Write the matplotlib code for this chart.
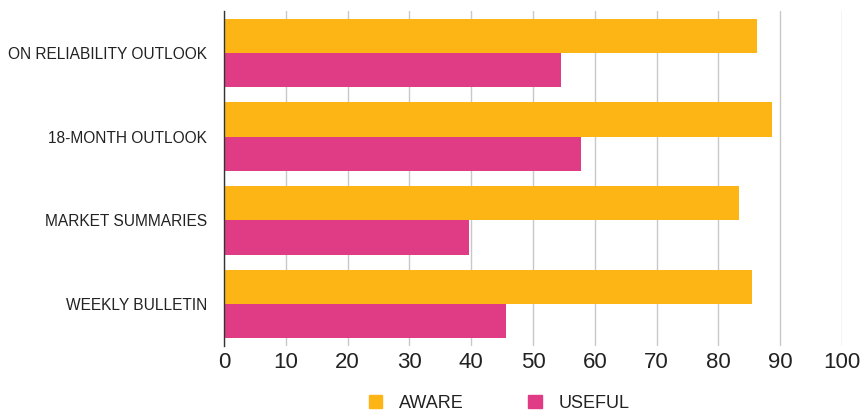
import matplotlib
matplotlib.use("Agg")
import matplotlib.pyplot as plt
import numpy as np
from matplotlib.patches import Patch

categories = ["ON RELIABILITY OUTLOOK", "18-MONTH OUTLOOK", "MARKET SUMMARIES", "WEEKLY BULLETIN"]
aware = [86.2, 88.7, 83.4, 85.4]
useful = [54.5, 57.7, 39.6, 45.6]
x_ticks = [0, 10, 20, 30, 40, 50, 60, 70, 80, 90, 100]

plt.rcParams['font.family'] = ['Liberation Sans', 'DejaVu Sans']

ORANGE = "#FDB515"
PINK = "#E03C85"

fig = plt.figure(figsize=(8.63, 4.13), dpi=100)
ax = fig.add_axes([224 / 863, 1 - 346 / 413, (842 - 224) / 863, (346 - 11) / 413])

y = np.arange(len(categories))
h = 0.41
ax.barh(y - h / 2, aware, height=h, color=ORANGE, zorder=3)
ax.barh(y + h / 2, useful, height=h, color=PINK, zorder=3)

ax.set_xlim(0, 100)
ax.set_ylim(len(categories) - 0.5, -0.5)
ax.set_xticks(x_ticks)
ax.set_xticklabels([str(t) for t in x_ticks], fontsize=16, color="#222222")
ax.set_yticks(y)
ax.set_yticklabels(categories, fontsize=11.2, color="#222222")
ax.tick_params(axis="y", length=0, pad=12)
ax.tick_params(axis="x", length=0, pad=4)
ax.grid(axis="x", color="#c8c8c8", linewidth=1.0, zorder=0)
for s in ["top", "right", "bottom"]:
    ax.spines[s].set_visible(False)
ax.spines["left"].set_color("#333333")
ax.spines["left"].set_linewidth(1.0)
ax.spines["left"].set_zorder(4)

handles = [Patch(color=ORANGE, label="AWARE"), Patch(color=PINK, label="USEFUL")]
fig.legend(handles=handles, loc="center", bbox_to_anchor=(499 / 863, 1 - 403 / 413),
           ncol=2, frameon=False, fontsize=13, handlelength=0.75, handleheight=0.75,
           columnspacing=3.6, handletextpad=0.9, labelcolor="#222222")

fig.savefig("out.png", dpi=100)
